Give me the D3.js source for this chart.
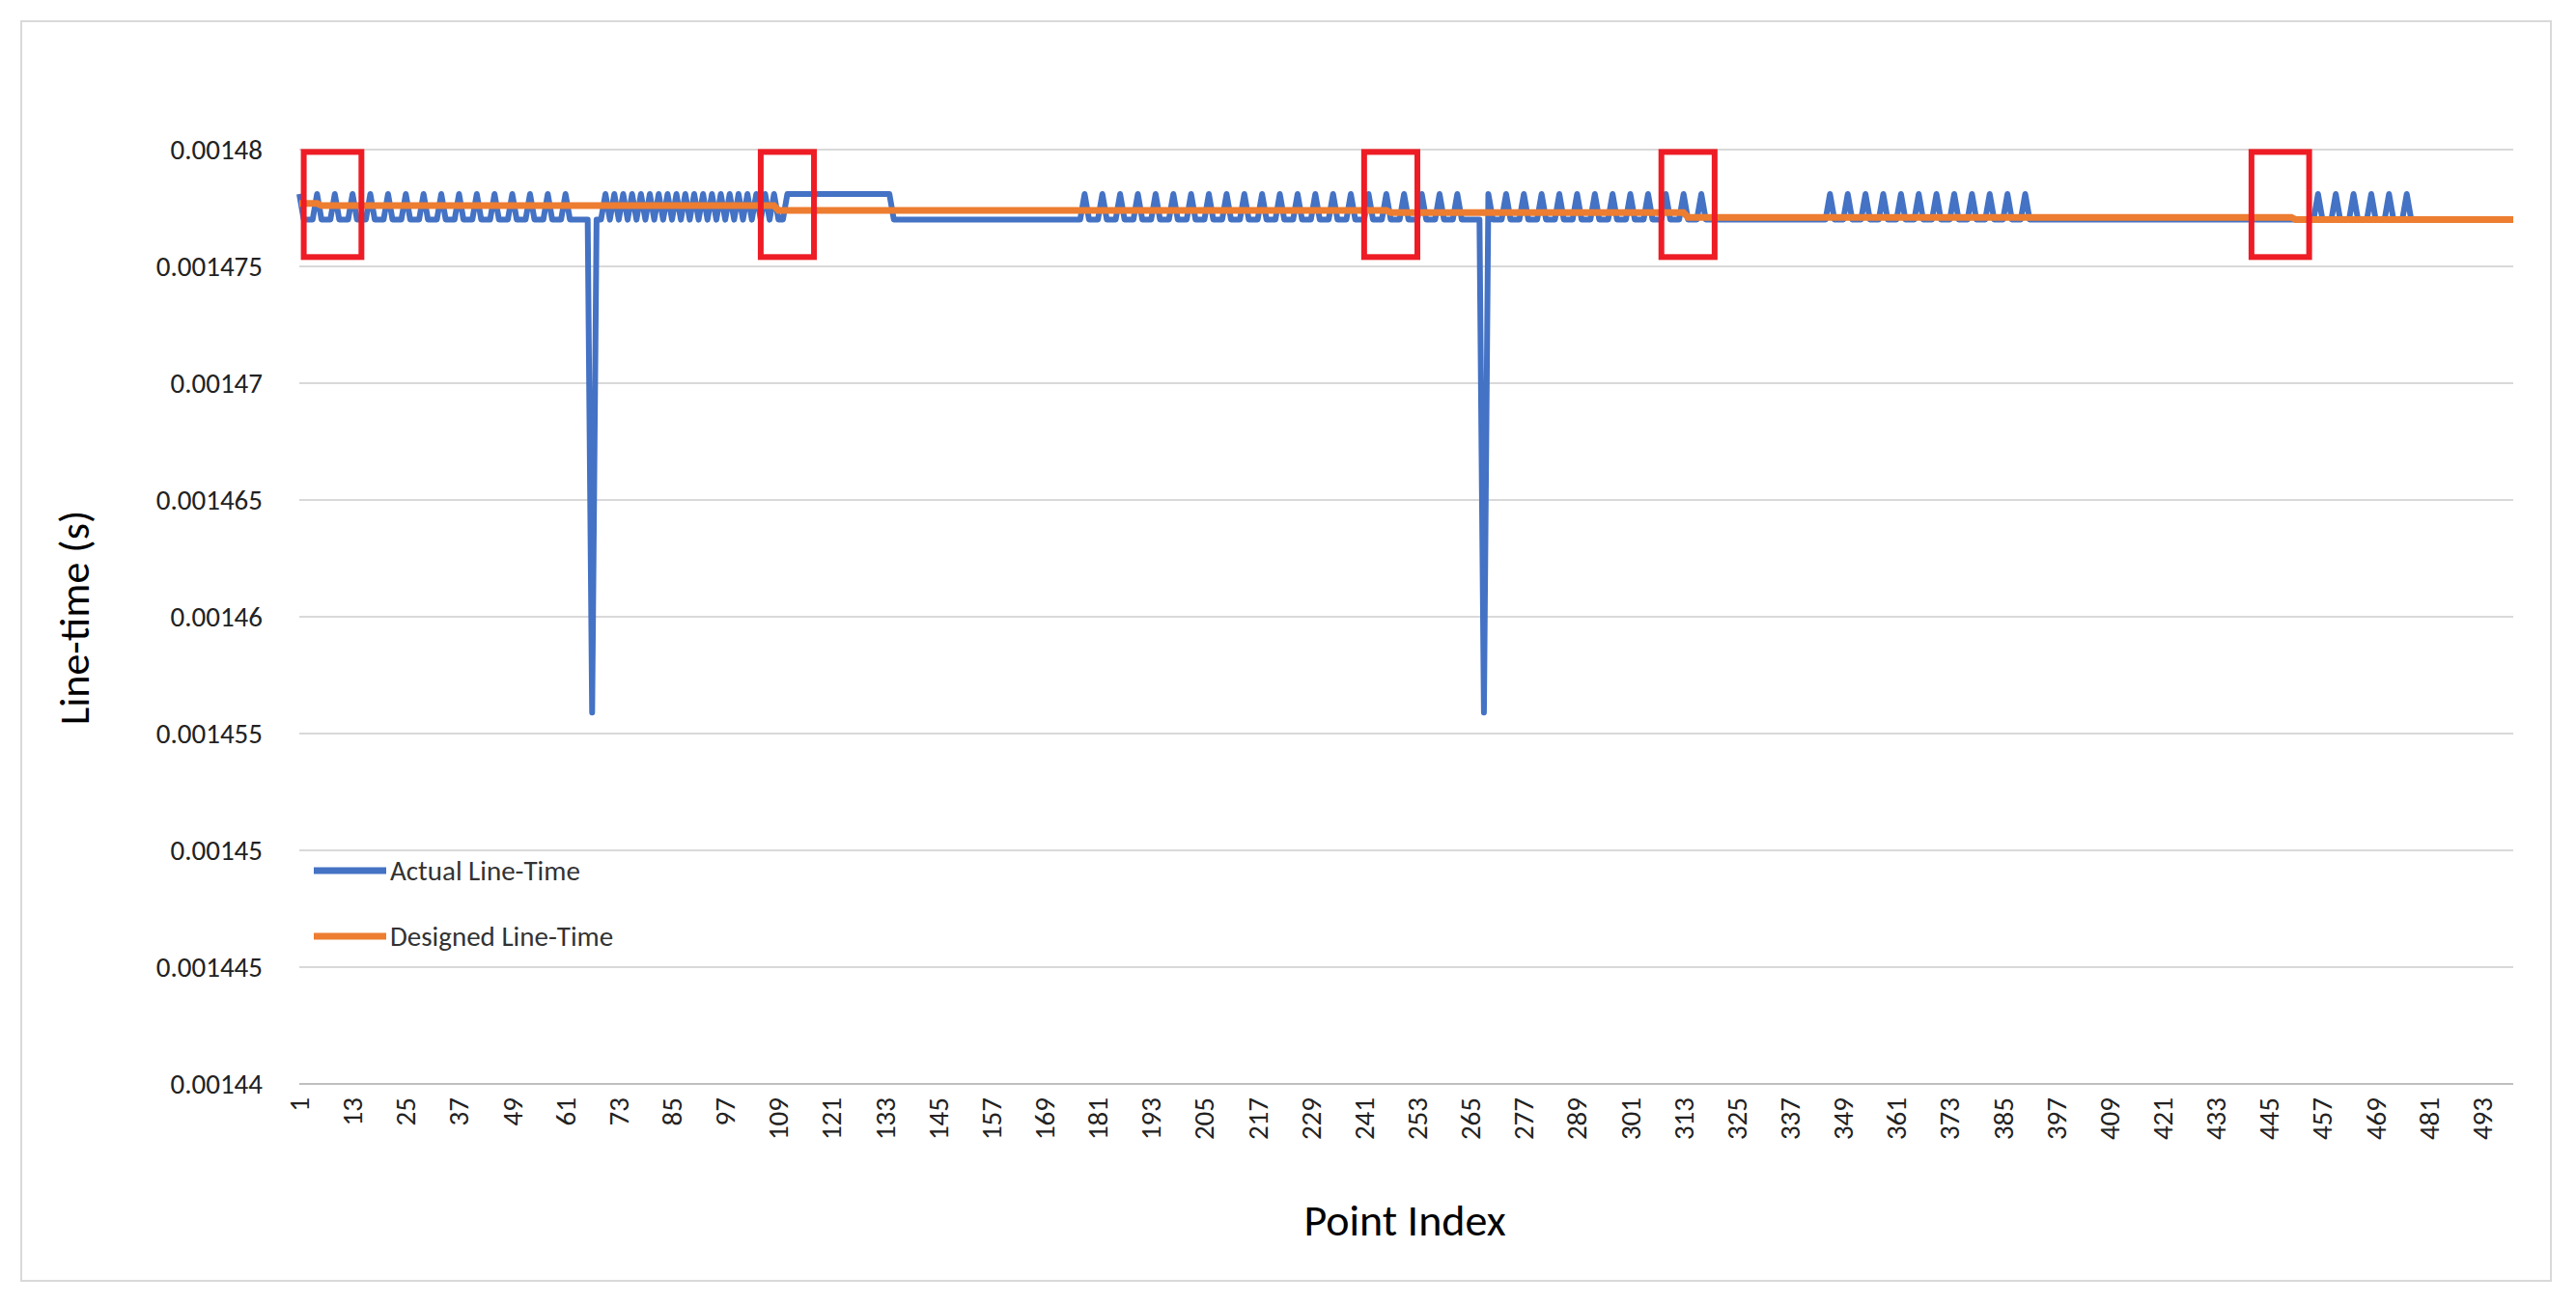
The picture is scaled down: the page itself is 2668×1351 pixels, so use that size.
<!DOCTYPE html>
<html><head><meta charset="utf-8">
<script src="https://cdn.jsdelivr.net/npm/d3@7"></script>
<style>body{margin:0;background:#fff}text{font-family:Calibri,"Liberation Sans",Arial,sans-serif}</style>
</head><body><svg id="chart" width="2668" height="1351"></svg>
<script>
// level codes
var levels = {h: 0.0014781, l: 0.0014770, u: 0.0014781, d: 0.0014559};

// actual line-time, as [pattern, repeat] segments in point order
var actualSegments = [
    ['hlll', 16], ['ll', 1], ['d', 1], ['ll', 1],
    ['hl', 20], ['l', 1],
    ['u', 24],
    ['l', 43],
    ['hlll', 22], ['ll', 1], ['d', 1],
    ['hlll', 13],
    ['l', 25],
    ['hlll', 12], ['l', 7],
    ['l', 55],
    ['hlll', 6], ['l', 1],
    ['l', 20]
];

// designed line-time steps: [first index, last index, value]
var designedSteps = [
    [1, 5, 0.0014777],
    [6, 108, 0.0014776],
    [109, 246, 0.0014774],
    [247, 313, 0.0014773],
    [314, 450, 0.0014771],
    [451, 500, 0.0014770]
];

var yTicks = [0.00144, 0.001445, 0.00145, 0.001455, 0.00146, 0.001465, 0.00147, 0.001475, 0.00148];
var xTickLabels = [1,13,25,37,49,61,73,85,97,109,121,133,145,157,169,181,193,205,217,229,241,253,265,277,289,301,313,325,337,349,361,373,385,397,409,421,433,445,457,469,481,493];

// highlighted boxes: [from index, to index]
var boxes = [[2, 15], [105, 117], [241, 253], [308, 320], [441, 454]];

var actual = [];
actualSegments.forEach(s => {
    for (let r = 0; r < s[1]; r++) {
        s[0].split('').forEach(c => actual.push({i: actual.length + 1, v: levels[c]}));
    }
});
var designed = [];
designedSteps.forEach(s => {
    for (let i = s[0]; i <= s[1]; i++) designed.push({i: i, v: s[2]});
});

var svg = d3.select('#chart');
var plotLeft = 310, plotRight = 2603, plotTop = 155, plotBottom = 1123;

svg.append('rect').attr('x', 22).attr('y', 22).attr('width', 2620).attr('height', 1305)
    .attr('fill', 'none').attr('stroke', '#d9d9d9').attr('stroke-width', 2);

var x = d3.scaleLinear().domain([1, 500]).range([plotLeft, plotRight]);
var y = d3.scaleLinear().domain([0.00144, 0.00148]).range([plotBottom, plotTop]);

svg.append('g').selectAll('line').data(yTicks).join('line')
    .attr('x1', plotLeft).attr('x2', plotRight)
    .attr('y1', d => y(d)).attr('y2', d => y(d))
    .attr('stroke', '#d9d9d9').attr('stroke-width', 2);

svg.append('g').selectAll('text').data(yTicks).join('text')
    .attr('x', 272).attr('y', d => y(d) + 10)
    .attr('text-anchor', 'end').attr('font-size', 29).attr('fill', '#222')
    .text(d => String(+d.toPrecision(6)));

svg.append('line').attr('x1', plotLeft).attr('x2', plotRight).attr('y1', plotBottom).attr('y2', plotBottom)
    .attr('stroke', '#bfbfbf').attr('stroke-width', 2);

svg.append('g').selectAll('text').data(xTickLabels).join('text')
    .attr('transform', d => `translate(${x(d) + 10},${plotBottom + 14}) rotate(-90)`)
    .attr('text-anchor', 'end').attr('font-size', 29).attr('fill', '#222')
    .text(d => d);

var line = d3.line().x(d => x(d.i)).y(d => y(d.v));

svg.append('path').datum(actual).attr('d', line)
    .attr('fill', 'none').attr('stroke', '#4472C4').attr('stroke-width', 6).attr('stroke-linejoin', 'round');
svg.append('path').datum(designed).attr('d', line)
    .attr('fill', 'none').attr('stroke', '#ED7D31').attr('stroke-width', 7);

svg.append('g').selectAll('rect').data(boxes).join('rect')
    .attr('x', d => x(d[0])).attr('y', y(0.0014799))
    .attr('width', d => x(d[1]) - x(d[0])).attr('height', y(0.0014754) - y(0.0014799))
    .attr('fill', 'none').attr('stroke', '#EE1C25').attr('stroke-width', 6);

var legend = [['Actual Line-Time', '#4472C4', 902], ['Designed Line-Time', '#ED7D31', 970]];
legend.forEach(l => {
    svg.append('line').attr('x1', 325).attr('x2', 400).attr('y1', l[2]).attr('y2', l[2])
        .attr('stroke', l[1]).attr('stroke-width', 7);
    svg.append('text').attr('x', 404).attr('y', l[2] + 10).attr('font-size', 29).attr('fill', '#333').text(l[0]);
});

svg.append('text').attr('transform', 'translate(92,640) rotate(-90)')
    .attr('text-anchor', 'middle').attr('font-size', 44).attr('fill', '#000').text('Line-time (s)');
svg.append('text').attr('x', 1455).attr('y', 1280)
    .attr('text-anchor', 'middle').attr('font-size', 46).attr('fill', '#000').text('Point Index');
</script></body></html>
